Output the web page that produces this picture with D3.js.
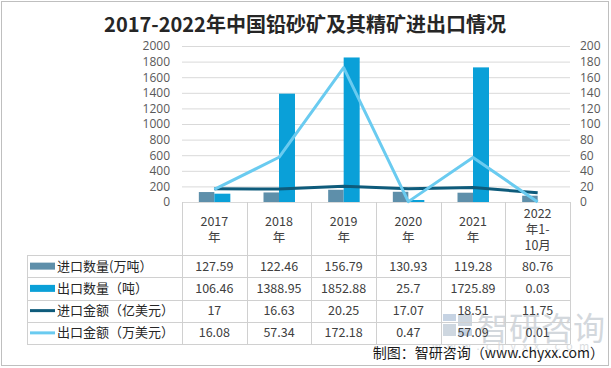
<!DOCTYPE html>
<html><head><meta charset="utf-8">
<script src="https://cdn.jsdelivr.net/npm/d3@7"></script>
<style>
body{margin:0;background:#fff;}
svg{display:block;font-family:"Microsoft YaHei","Noto Sans CJK SC","Noto Sans",sans-serif;}
</style></head><body>
<svg id="c" width="611" height="368"></svg>
<script>
const categories = ["2017年","2018年","2019年","2020年","2021年","2022年1-10月"];
const headerLines = [["2017","年"],["2018","年"],["2019","年"],["2020","年"],["2021","年"],["2022","年1-","10月"]];
const importQty = [127.59,122.46,156.79,130.93,119.28,80.76];
const exportQty = [106.46,1388.95,1852.88,25.7,1725.89,0.03];
const importAmt = [17,16.63,20.25,17.07,18.51,11.75];
const exportAmt = [16.08,57.34,172.18,0.47,57.09,0.01];
const leftTicks = [0,200,400,600,800,1000,1200,1400,1600,1800,2000];
const rightTicks = [0,20,40,60,80,100,120,140,160,180,200];
const seriesNames = ["进口数量(万吨）","出口数量（吨）","进口金额（亿美元）","出口金额（万美元）"];
const seriesData = [importQty, exportQty, importAmt, exportAmt];
const colors = ["#5E8FAA","#0AA0D8","#0E5B7B","#6ACBF0"];

const svg = d3.select("#c");
svg.append("rect").attr("x",1.5).attr("y",1.5).attr("width",607).attr("height",364)
  .attr("fill","#fff").attr("stroke","#BFBFBF");

svg.append("text").attr("x",305).attr("y",32).attr("text-anchor","middle")
  .attr("font-size",20).attr("font-weight","bold").attr("fill","#262626")
  .text("2017-2022年中国铅砂矿及其精矿进出口情况");

const L=182, R=570, T=46, B=202;
const x = d3.scaleBand().domain(categories).range([L,R]);
const yL = d3.scaleLinear().domain([0,2000]).range([B,T]);
const yR = d3.scaleLinear().domain([0,200]).range([B,T]);

// gridlines
svg.append("g").selectAll("line").data(leftTicks).join("line")
  .attr("x1",L).attr("x2",R).attr("y1",d=>yL(d)+0.5).attr("y2",d=>yL(d)+0.5)
  .attr("stroke","#D9D9D9");

// axes
const gl = svg.append("g").attr("transform",`translate(${L-7},0)`)
  .call(d3.axisLeft(yL).tickValues(leftTicks).tickFormat(d3.format("d")).tickSize(0).tickPadding(5));
const gr = svg.append("g").attr("transform",`translate(${R+5},0)`)
  .call(d3.axisRight(yR).tickValues(rightTicks).tickFormat(d3.format("d")).tickSize(0).tickPadding(5));
[gl,gr].forEach(g=>{g.select(".domain").remove();
  g.selectAll("text").attr("font-size",12).attr("fill","#595959")
   .attr("font-family",'"Open Sans","Noto Sans",sans-serif');});

// bars
const bw = 15.5;
svg.append("g").selectAll("rect").data(importQty).join("rect")
  .attr("x",(d,i)=>x(categories[i])+x.bandwidth()/2-bw).attr("width",bw)
  .attr("y",d=>yL(d)).attr("height",d=>B-yL(d)).attr("fill",colors[0]);
svg.append("g").selectAll("rect").data(exportQty).join("rect")
  .attr("x",(d,i)=>x(categories[i])+x.bandwidth()/2).attr("width",bw+0.5)
  .attr("y",d=>yL(d)).attr("height",d=>B-yL(d)).attr("fill",colors[1]);

// lines
const line = d3.line().x((d,i)=>x(categories[i])+x.bandwidth()/2).y(d=>yR(d));
svg.append("path").datum(importAmt).attr("d",line).attr("fill","none")
  .attr("stroke",colors[2]).attr("stroke-width",3).attr("stroke-linejoin","round");
svg.append("path").datum(exportAmt).attr("d",line).attr("fill","none")
  .attr("stroke",colors[3]).attr("stroke-width",3).attr("stroke-linejoin","round");

// watermark
const wm = svg.append("g").attr("opacity",0.5);
wm.append("rect").attr("x",443).attr("y",314).attr("width",13).attr("height",7).attr("fill","#8EA9C9");
wm.append("rect").attr("x",458).attr("y",314).attr("width",14).attr("height",12).attr("fill","#9FB0C2");
wm.append("rect").attr("x",443).attr("y",324).attr("width",13).attr("height",12).attr("fill","#9FB0C2");
wm.append("rect").attr("x",458).attr("y",329).attr("width",14).attr("height",7).attr("fill","#8EA9C9");
wm.append("text").attr("x",477).attr("y",340).attr("font-size",32).attr("fill","#A9B2BC").text("智研咨询");
wm.append("text").attr("x",432).attr("y",350).attr("font-size",11).attr("fill","#B5BCC4")
  .attr("letter-spacing","6.2px").text("www.chyxx.com");

// table
const rowTop = 255, rowH = 22.25, tL = 27;
const tg = svg.append("g");
const gridC = "#D0D0D0";
const bounds = categories.map(c=>x(c)).concat([R]);
bounds.forEach(bx=>{
  tg.append("line").attr("x1",Math.round(bx)+0.5).attr("x2",Math.round(bx)+0.5)
    .attr("y1",B).attr("y2",rowTop+4*rowH).attr("stroke",gridC);
});
tg.append("line").attr("x1",tL+0.5).attr("x2",tL+0.5).attr("y1",rowTop).attr("y2",rowTop+4*rowH).attr("stroke",gridC);
for(let r=0;r<=4;r++){
  const yy = Math.round(rowTop+r*rowH)+0.5;
  tg.append("line").attr("x1",tL).attr("x2",R).attr("y1",yy).attr("y2",yy).attr("stroke",gridC);
}
headerLines.forEach((ls,i)=>{
  const cx = x(categories[i])+x.bandwidth()/2;
  const n = ls.length, lh = 16;
  const y0 = (B+rowTop)/2 - (n-1)*lh/2 + 5;
  ls.forEach((s,k)=>tg.append("text").attr("x",cx).attr("y",y0+k*lh)
    .attr("text-anchor","middle").attr("font-size",12.5).attr("fill","#404040").text(s));
});
seriesNames.forEach((name,r)=>{
  const cy = rowTop + r*rowH + rowH/2;
  if(r<2){
    tg.append("rect").attr("x",30).attr("y",cy-3.5).attr("width",25).attr("height",7).attr("fill",colors[r]);
  } else {
    tg.append("line").attr("x1",30).attr("x2",55).attr("y1",cy).attr("y2",cy)
      .attr("stroke",colors[r]).attr("stroke-width",3);
  }
  tg.append("text").attr("x",57).attr("y",cy+4.5).attr("font-size",13).attr("fill","#262626").text(name);
  seriesData[r].forEach((v,i)=>{
    tg.append("text").attr("x",x(categories[i])+x.bandwidth()/2).attr("y",cy+4.5)
      .attr("text-anchor","middle").attr("font-size",12.5).attr("fill","#404040").text(String(v));
  });
});

svg.append("text").attr("x",604).attr("y",358).attr("text-anchor","end")
  .attr("font-size",14).attr("fill","#1A1A1A").text("制图：智研咨询（www.chyxx.com）");
</script>
</body></html>
